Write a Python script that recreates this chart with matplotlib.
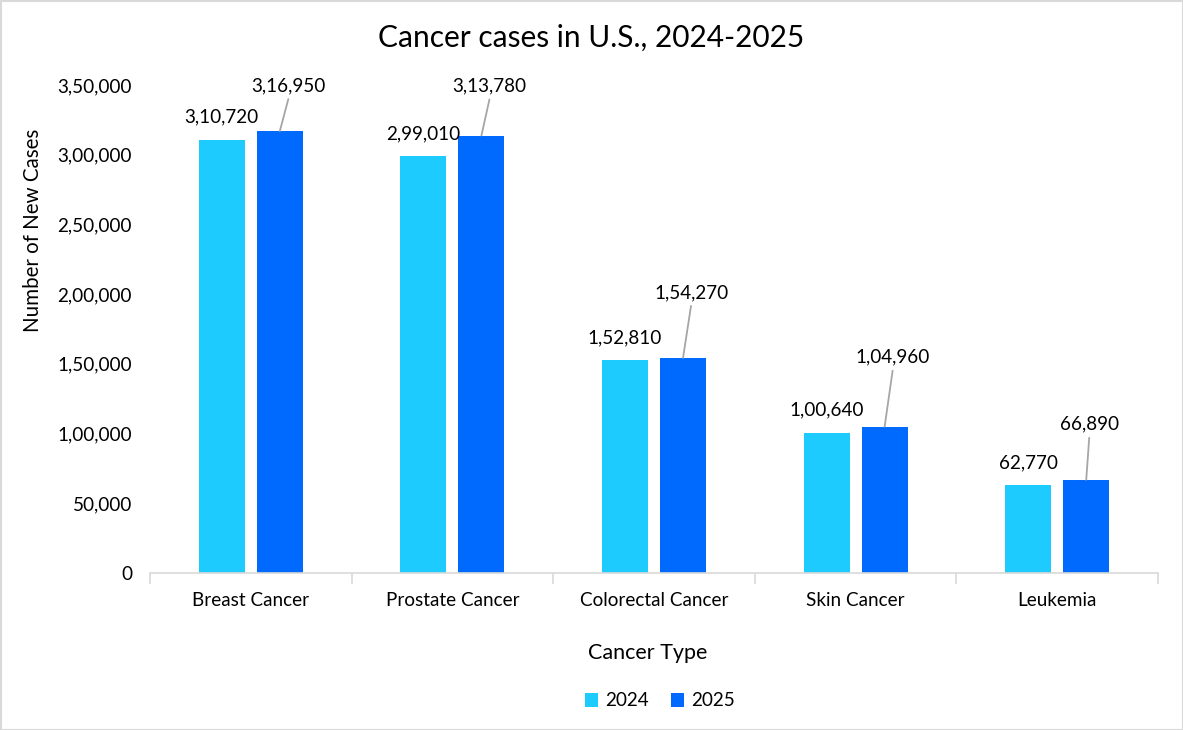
import matplotlib
matplotlib.use("Agg")
import matplotlib.pyplot as plt
import numpy as np
from matplotlib.ticker import FuncFormatter
from matplotlib.patches import Rectangle

categories = ["Breast Cancer", "Prostate Cancer", "Colorectal Cancer", "Skin Cancer", "Leukemia"]
series_names = ["2024", "2025"]
cases_2024 = [310720, 299010, 152810, 100640, 62770]
cases_2025 = [316950, 313780, 154270, 104960, 66890]
y_ticks = [0, 50000, 100000, 150000, 200000, 250000, 300000, 350000]

# style
c2024 = "#1ECBFF"
c2025 = "#006AFF"
FONT = "Lato"
plt.rcParams['font.family'] = [FONT, 'DejaVu Sans']
FS = 13.6

def indian(v):
    v = int(round(v))
    s = str(v)
    if len(s) <= 3:
        return s
    last3 = s[-3:]
    rest = s[:-3]
    parts = []
    while len(rest) > 2:
        parts.insert(0, rest[-2:])
        rest = rest[:-2]
    if rest:
        parts.insert(0, rest)
    return ",".join(parts) + "," + last3

W, H = 1183, 730
fig = plt.figure(figsize=(W/100, H/100), dpi=100)
ax = fig.add_axes([150/W, 1-573/H, (1158-150)/W, (573-85)/H])

x = np.arange(len(categories))
bw = 0.228
gap = 0.06
b1 = ax.bar(x - (bw+gap)/2, cases_2024, bw, color=c2024, label=series_names[0], zorder=2)
b2 = ax.bar(x + (bw+gap)/2, cases_2025, bw, color=c2025, label=series_names[1], zorder=2)

ax.set_xlim(-0.5, len(categories)-0.5)
ax.set_ylim(0, 350000)
ax.set_yticks(y_ticks)
ax.yaxis.set_major_formatter(FuncFormatter(lambda v, p: indian(v)))
ax.tick_params(axis='y', length=0, pad=13, labelsize=FS, labelcolor='#000000')
ax.set_xticks(x)
ax.set_xticklabels(categories)
ax.tick_params(axis='x', length=0, pad=14, labelsize=FS)
# boundary ticks
ax.set_xticks(np.arange(len(categories)+1) - 0.5, minor=True)
ax.tick_params(axis='x', which='minor', length=8, color='#D9D9D9', width=1.2, direction='out')
for s in ['top', 'right', 'left']:
    ax.spines[s].set_visible(False)
ax.spines['bottom'].set_color('#D9D9D9')
ax.spines['bottom'].set_linewidth(1.2)

# 2024 labels (offsets in pixels, baseline)
for bar, v in zip(b1, cases_2024):
    ax.annotate(indian(v), (bar.get_x()+bar.get_width()/2, v), xytext=(0, 17),
                textcoords='offset pixels', ha='center', va='baseline', fontsize=FS)

# 2025 labels with leader lines
off25 = [(8.5, 40), (8, 44), (8, 60), (8, 64), (3, 50)]
for bar, v, o in zip(b2, cases_2025, off25):
    xy = (bar.get_x()+bar.get_width()/2, v)
    ax.annotate(indian(v), xy, xytext=o,
                textcoords='offset pixels', ha='center', va='baseline', fontsize=FS)
    ax.annotate("", xy, xytext=(o[0], o[1]-8), textcoords='offset pixels',
                arrowprops=dict(arrowstyle='-', color='#A6A6A6', lw=1.3,
                                shrinkA=0, shrinkB=0))

fig.text(591/W, 1-38/H, "Cancer cases in U.S., 2024-2025", ha='center', va='center', fontsize=21.5)
fig.text(648/W, 1-653/H, "Cancer Type", ha='center', va='center', fontsize=15.5)
fig.text(33/W, 1-230/H, "Number of New Cases", ha='center', va='center', rotation=90, fontsize=14.8)

leg = fig.legend(handles=[b1, b2], labels=series_names, loc='center', bbox_to_anchor=(660/W, 1-701/H),
                 ncol=2, frameon=False, fontsize=FS, handlelength=0.7, handleheight=0.7,
                 handletextpad=0.4, columnspacing=1.15, borderpad=0)

fig.patches.append(Rectangle((0.5/W, 0.5/H), 1-1/W, 1-1/H, transform=fig.transFigure,
                             fill=False, edgecolor='#D9D9D9', lw=1.5))

fig.savefig("out.png", dpi=100, facecolor='white')
